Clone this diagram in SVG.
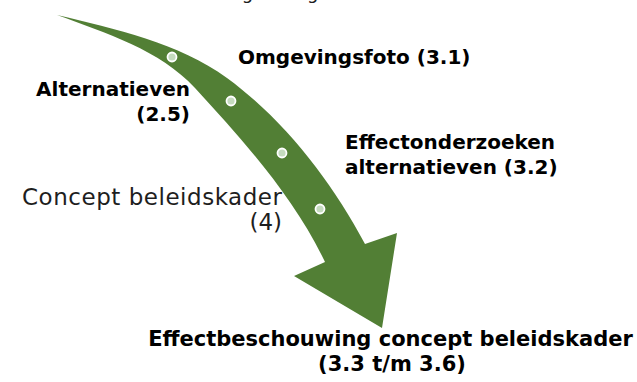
<svg xmlns="http://www.w3.org/2000/svg" width="637" height="382" viewBox="0 0 637 382">
  <style>
    .b { font-family: "DejaVu Sans", "Liberation Sans", sans-serif; font-weight: bold; font-size: 20px; fill: #000; }
    .r { font-family: "DejaVu Sans", "Liberation Sans", sans-serif; font-size: 23px; fill: #1e1e1e; }
    .dot { fill: #c5dbbf; stroke: #ffffff; stroke-width: 1.8; }
  </style>
  <rect width="637" height="382" fill="#ffffff"/>
  <g id="top-label">
    <text class="r" x="200" y="-1" style="font-size:18px">Vraagstelling</text>
  </g>
  <g id="connectors">
    <path id="arrow" fill="#527f35" d="M57,15 C115,29 178.6,42.5 227,78 C285,120.6 331,180.6 365,244 L397,233 L382,328 L294,276 L325,262 C294,197 243.7,141 195,88 C160,50 106,33 57,15 Z"/>
  </g>
  <g id="dot-1"><circle class="dot" cx="172" cy="57" r="4.5"/></g>
  <g id="dot-2"><circle class="dot" cx="231" cy="101" r="4.5"/></g>
  <g id="dot-3"><circle class="dot" cx="282" cy="153" r="4.5"/></g>
  <g id="dot-4"><circle class="dot" cx="320" cy="209" r="4.5"/></g>
  <g id="alternatieven">
    <text class="b" x="190" y="96" text-anchor="end">Alternatieven</text>
    <text class="b" x="190" y="121" text-anchor="end">(2.5)</text>
  </g>
  <g id="omgevingsfoto">
    <text class="b" x="238" y="64">Omgevingsfoto (3.1)</text>
  </g>
  <g id="effectonderzoeken">
    <text class="b" x="345" y="149">Effectonderzoeken</text>
    <text class="b" x="345" y="174">alternatieven (3.2)</text>
  </g>
  <g id="concept-beleidskader">
    <text class="r" x="282" y="205" text-anchor="end" textLength="260" lengthAdjust="spacing">Concept beleidskader</text>
    <text class="r" x="282" y="230" text-anchor="end">(4)</text>
  </g>
  <g id="effectbeschouwing">
    <text class="b" x="390.5" y="346" text-anchor="middle" style="font-size:21px">Effectbeschouwing concept beleidskader</text>
    <text class="b" x="392" y="371" text-anchor="middle" style="font-size:21px">(3.3 t/m 3.6)</text>
  </g>
</svg>
